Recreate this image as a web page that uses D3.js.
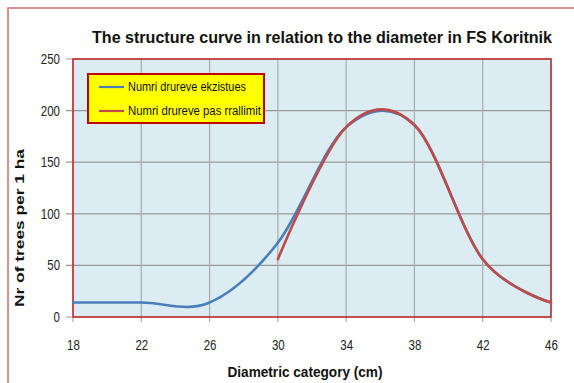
<!DOCTYPE html>
<html><head><meta charset="utf-8">
<script src="https://cdn.jsdelivr.net/npm/d3@7"></script>
<style>body{margin:0;background:#fff}svg{display:block}</style>
</head><body><svg id="c" width="574" height="383"></svg>
<script>
const categories = [18, 22, 26, 30, 34, 38, 42, 46];
const xTicks = [18, 22, 26, 30, 34, 38, 42, 46];
const yTicks = [0, 50, 100, 150, 200, 250];
const seriesNames = ["Numri drureve ekzistues", "Numri drureve pas rrallimit"];
const existing = [14, 14, 14, 72, 184, 186, 56, 14];
const afterThinning = [null, null, null, 56, 184, 186, 56, 14];
const colors = ["#4a7ebb", "#be4b48"];

const svg = d3.select("#c");
const m = {l: 73, r: 551, t: 59, b: 317};
const x = d3.scaleLinear().domain([18, 46]).range([m.l, m.r]);
const y = d3.scaleLinear().domain([0, 250]).range([m.b, m.t]);

// outer border
svg.append("rect").attr("x", 8).attr("y", 8).attr("width", 600).attr("height", 400)
  .attr("fill", "none").attr("stroke", "#d86a6a").attr("stroke-width", 1.5);

// title
svg.append("text").attr("x", 322).attr("y", 43).attr("text-anchor", "middle")
  .attr("font-family", "Liberation Sans, Arial, sans-serif").attr("font-size", 16)
  .attr("font-weight", "bold").attr("fill", "#111")
  .attr("textLength", 460).attr("lengthAdjust", "spacingAndGlyphs")
  .text("The structure curve in relation to the diameter in FS Koritnik");

// plot area
svg.append("rect").attr("x", m.l).attr("y", m.t).attr("width", m.r - m.l).attr("height", m.b - m.t)
  .attr("fill", "#dbecf2");

// grid
svg.append("g").selectAll("line").data(yTicks).join("line")
  .attr("x1", m.l - 7).attr("x2", m.r).attr("y1", d => y(d)).attr("y2", d => y(d))
  .attr("stroke", "#999").attr("stroke-width", 1.2);
svg.append("g").selectAll("line").data(xTicks).join("line")
  .attr("x1", d => x(d)).attr("x2", d => x(d)).attr("y1", m.t).attr("y2", m.b + 5)
  .attr("stroke", "#aaa").attr("stroke-width", 1.2);

// axes labels via d3 axes
const xAxis = svg.append("g").attr("transform", `translate(0,${m.b})`)
  .call(d3.axisBottom(x).tickValues(xTicks).tickSize(0).tickPadding(23));
const yAxis = svg.append("g").attr("transform", `translate(${m.l},0)`)
  .call(d3.axisLeft(y).tickValues(yTicks).tickSize(0).tickPadding(13));
[xAxis, yAxis].forEach(g => {
  g.select(".domain").remove();
  g.selectAll("text").attr("font-family", "Liberation Sans, Arial, sans-serif")
    .attr("font-size", 14).attr("fill", "#222");
});
xAxis.selectAll("text").attr("transform", "scale(0.82,1)");
yAxis.selectAll("text").attr("transform", "scale(0.82,1)").attr("x", -13 / 0.82);

// plot border
svg.append("rect").attr("x", m.l).attr("y", m.t).attr("width", m.r - m.l).attr("height", m.b - m.t)
  .attr("fill", "none").attr("stroke", "#c0262a").attr("stroke-width", 1.5);

// lines
const line = d3.line().defined(d => d[1] != null)
  .x(d => x(d[0])).y(d => y(d[1])).curve(d3.curveCardinal.tension(0));
[existing, afterThinning].forEach((s, i) => {
  svg.append("path").datum(categories.map((c, j) => [c, s[j]]))
    .attr("d", line).attr("fill", "none").attr("stroke", colors[i])
    .attr("stroke-width", 2.6).attr("stroke-linecap", "round");
});

// legend
svg.append("rect").attr("x", 88).attr("y", 74).attr("width", 176).attr("height", 49)
  .attr("fill", "#ffff00").attr("stroke", "#c00000").attr("stroke-width", 2);
seriesNames.forEach((n, i) => {
  const yy = 87 + i * 24;
  svg.append("line").attr("x1", 99).attr("x2", 124).attr("y1", yy).attr("y2", yy)
    .attr("stroke", colors[i]).attr("stroke-width", 2.2);
  svg.append("text").attr("x", 128).attr("y", yy + 4)
    .attr("font-family", "Liberation Sans, Arial, sans-serif").attr("font-size", 12)
    .attr("fill", "#111").attr("textLength", i === 0 ? 118 : 133).attr("lengthAdjust", "spacingAndGlyphs")
    .text(n);
});

// axis titles
svg.append("text").attr("x", 305).attr("y", 377).attr("text-anchor", "middle")
  .attr("font-family", "Liberation Sans, Arial, sans-serif").attr("font-size", 14)
  .attr("font-weight", "bold").attr("fill", "#111")
  .attr("textLength", 155).attr("lengthAdjust", "spacingAndGlyphs")
  .text("Diametric category  (cm)");
svg.append("text").attr("transform", "translate(24,228) rotate(-90)").attr("text-anchor", "middle")
  .attr("font-family", "Liberation Sans, Arial, sans-serif").attr("font-size", 12)
  .attr("font-weight", "bold").attr("fill", "#111")
  .attr("textLength", 158).attr("lengthAdjust", "spacingAndGlyphs")
  .text("Nr of trees  per 1 ha");
</script></body></html>
